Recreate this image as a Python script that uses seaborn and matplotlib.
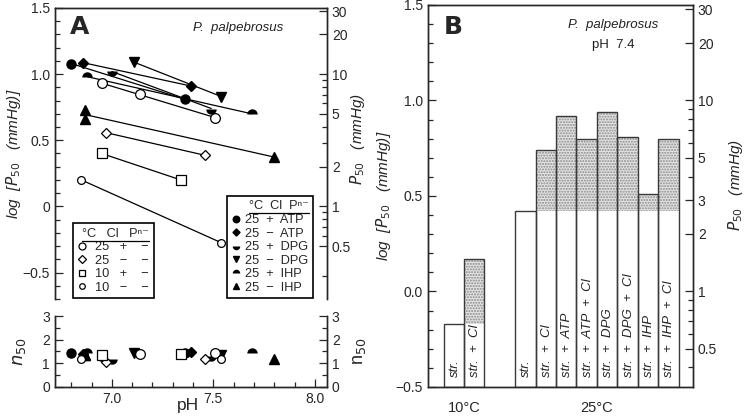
import numpy as np
import pandas as pd
import matplotlib.pyplot as plt
import seaborn as sns
from matplotlib.lines import Line2D
from matplotlib.ticker import MultipleLocator

# ---- A: log P50 と n50 (pH 依存) ----
# 系列ごとの条件 (温度, Cl, 有機リン酸)
series_keys = ["ATP+", "ATP-", "DPG+", "DPG-", "IHP+", "IHP-", "25+", "25-", "10+", "10-"]
series_temp = ["25", "25", "25", "25", "25", "25", "25", "25", "10", "10"]
series_cl = ["+", "−", "+", "−", "+", "−", "+", "−", "+", "−"]
series_phos = ["ATP", "ATP", "DPG", "DPG", "IHP", "IHP", "−", "−", "−", "−"]

ph_atp_cl = [6.80, 7.36]
logp50_atp_cl = [1.08, 0.81]
n50_atp_cl = [1.42, 1.45]
ph_atp = [6.86, 7.39]
logp50_atp = [1.086, 0.91]
n50_atp = [1.38, 1.46]
ph_dpg_cl = [7.00, 7.49]
logp50_dpg_cl = [1.02, 0.74]
n50_dpg_cl = [1.20, 1.30]
ph_dpg = [7.11, 7.54]
logp50_dpg = [1.09, 0.83]
n50_dpg = [1.42, 1.35]
ph_ihp_cl = [6.88, 7.69]
logp50_ihp_cl = [0.98, 0.70]
n50_ihp_cl = [1.42, 1.45]
ph_ihp = [6.87, 6.87, 7.80]
logp50_ihp = [0.727, 0.66, 0.373]
n50_ihp = [1.35, 1.35, 1.20]
ph_str_cl_25 = [6.95, 7.14, 7.51]
logp50_str_cl_25 = [0.93, 0.846, 0.67]
n50_str_cl_25 = [1.30, 1.38, 1.42]
ph_str_25 = [6.97, 7.46]
logp50_str_25 = [0.558, 0.386]
n50_str_25 = [1.07, 1.17]
ph_str_cl_10 = [6.95, 7.34]
logp50_str_cl_10 = [0.40, 0.20]
n50_str_cl_10 = [1.35, 1.38]
ph_str_10 = [6.85, 7.54]
logp50_str_10 = [0.20, -0.275]
n50_str_10 = [1.17, 1.20]

ph_all = [ph_atp_cl, ph_atp, ph_dpg_cl, ph_dpg, ph_ihp_cl, ph_ihp,
          ph_str_cl_25, ph_str_25, ph_str_cl_10, ph_str_10]
logp50_all = [logp50_atp_cl, logp50_atp, logp50_dpg_cl, logp50_dpg, logp50_ihp_cl,
              logp50_ihp, logp50_str_cl_25, logp50_str_25, logp50_str_cl_10, logp50_str_10]
n50_all = [n50_atp_cl, n50_atp, n50_dpg_cl, n50_dpg, n50_ihp_cl, n50_ihp,
           n50_str_cl_25, n50_str_25, n50_str_cl_10, n50_str_10]

# ---- B: pH 7.4 での log P50 ----
bar_temp = ["10°C", "10°C", "25°C", "25°C", "25°C", "25°C", "25°C", "25°C", "25°C", "25°C"]
bar_labels = ["str.", "str.  +  Cl", "str.", "str.  +  Cl", "str.  +  ATP", "str.  +  ATP  +  Cl",
              "str.  +  DPG", "str.  +  DPG  +  Cl", "str.  +  IHP", "str.  +  IHP  +  Cl"]
bar_logp50 = [-0.17, 0.17, 0.42, 0.74, 0.92, 0.80, 0.94, 0.81, 0.51, 0.80]

p50_ticks_a = [0.5, 1, 2, 5, 10, 20, 30]
p50_ticks_b = [0.5, 1, 2, 3, 5, 10, 20, 30]

# マーカーの見た目
marker_style = {
    "ATP+": dict(marker="o", ms=6.5, mfc="black", mec="black"),
    "ATP-": dict(marker="D", ms=5, mfc="black", mec="black"),
    "DPG+": dict(marker="o", ms=7.5, mfc="black", fillstyle="bottom",
                 markerfacecoloralt="none", mew=0),
    "DPG-": dict(marker="v", ms=6.5, mfc="black", mec="black"),
    "IHP+": dict(marker="o", ms=7.5, mfc="black", fillstyle="top",
                 markerfacecoloralt="none", mew=0),
    "IHP-": dict(marker="^", ms=6.5, mfc="black", mec="black"),
    "25+": dict(marker="o", ms=7, mfc="white", mec="black", mew=0.9),
    "25-": dict(marker="D", ms=5.5, mfc="white", mec="black", mew=0.9),
    "10+": dict(marker="s", ms=6.5, mfc="white", mec="black", mew=0.9),
    "10-": dict(marker="o", ms=5.6, mfc="white", mec="black", mew=0.9),
}

sns.set_style("ticks", {"xtick.direction": "in", "ytick.direction": "in"})
plt.rcParams["font.family"] = ["Liberation Sans", "DejaVu Sans"]
plt.rcParams["mathtext.fontset"] = "dejavusans"
plt.rcParams["xtick.labelsize"] = 10
plt.rcParams["ytick.labelsize"] = 10
plt.rcParams["axes.linewidth"] = 1.0

df = pd.DataFrame({
    "series": np.concatenate([[k] * len(p) for k, p in zip(series_keys, ph_all)]),
    "ph": np.concatenate(ph_all),
    "logp50": np.concatenate(logp50_all),
    "n50": np.concatenate(n50_all),
})

fig = plt.figure(figsize=(7.45, 4.2), dpi=100)
axA = fig.add_axes([0.0738, 0.2881, 0.3651, 0.6929])
axN = fig.add_axes([0.0738, 0.0786, 0.3651, 0.1690])
axB = fig.add_axes([0.5745, 0.0786, 0.3557, 0.9095])

# ---- パネル A 上段 ----
for key in series_keys:
    sub = df[df["series"] == key]
    sns.regplot(data=sub, x="ph", y="logp50", scatter=False, ci=None, truncate=True,
                color="black", line_kws={"lw": 0.9, "zorder": 2}, ax=axA)
for key in series_keys:
    sub = df[df["series"] == key]
    axA.plot(sub["ph"], sub["logp50"], ls="none", zorder=3, **marker_style[key])
    axN.plot(sub["ph"], sub["n50"], ls="none", zorder=3, **marker_style[key])

label_kw = dict(style="italic", fontsize=11)

xlim = (6.72, 8.06)
axA.set_xlim(xlim)
axA.set_ylim(-0.7, 1.5)
axA.set_yticks([-0.5, 0, 0.5, 1.0, 1.5])
axA.set_yticklabels(["−0.5", "0", "0.5", "1.0", "1.5"])
axA.yaxis.set_minor_locator(MultipleLocator(0.1))
axA.spines["bottom"].set_visible(False)
axA.tick_params(axis="x", bottom=False, labelbottom=False)
axA.tick_params(axis="y", which="major", length=6, width=0.9)
axA.tick_params(axis="y", which="minor", length=3.5, width=0.9)
axA.set_xlabel("")
axA.set_ylabel("log  [$P_{50}$   (mmHg)]", **label_kw)
axA.yaxis.set_label_coords(-0.118, 0.5)

axA2 = axA.twinx()
axA2.set_ylim(axA.get_ylim())
axA2.set_yticks(np.log10(p50_ticks_a))
axA2.set_yticklabels([f"{v:g}" for v in p50_ticks_a])
axA2.set_yticks(np.log10([0.3, 0.6, 0.7, 0.8, 0.9, 3, 4, 6, 7, 8, 9]), minor=True)
axA2.spines["bottom"].set_visible(False)
axA2.tick_params(axis="y", which="major", length=6, width=0.9)
axA2.tick_params(axis="y", which="minor", length=3.5, width=0.9)
axA2.set_ylabel("$P_{50}$   (mmHg)", **label_kw)
axA2.yaxis.set_label_coords(1.078, 0.55)

axA.text(0.092, 0.935, "A", transform=axA.transAxes, fontsize=18, fontweight="bold",
         ha="center", va="center", family="DejaVu Sans")
axA.text(0.673, 0.931, "P.  palpebrosus", transform=axA.transAxes, fontsize=9.5,
         style="italic", ha="center", va="center", color="#222222")

# 凡例
def make_handles(keys):
    hs = []
    for k in keys:
        st = dict(marker_style[k])
        st["ms"] = st["ms"] * 0.72
        hs.append(Line2D([], [], ls="none", **st))
    return hs

leg_kw = dict(fontsize=9.2, title_fontsize=9.2, frameon=True, fancybox=False,
              edgecolor="black", framealpha=1, handlelength=0.7, labelspacing=0.12,
              borderpad=0.35, borderaxespad=0, alignment="right")
idx_r = [0, 1, 2, 3, 4, 5]
idx_l = [6, 7, 8, 9]
labels_r = [f"{series_temp[i]}  {series_cl[i]}  {series_phos[i]}" for i in idx_r]
labels_l = [f"{series_temp[i]}   {series_cl[i]}    {series_phos[i]}" for i in idx_l]
leg_r = axA.legend(make_handles([series_keys[i] for i in idx_r]), labels_r,
                   title="°C  Cl  Pⁿ⁻", loc="lower right", bbox_to_anchor=(0.949, 0.003),
                   handletextpad=0.35, **leg_kw)
leg_r.get_frame().set_linewidth(1.2)
axA.add_artist(leg_r)
leg_l = axA.legend(make_handles([series_keys[i] for i in idx_l]), labels_l,
                   title="°C   Cl   Pⁿ⁻", loc="lower left", bbox_to_anchor=(0.066, 0.003),
                   handletextpad=0.7, **leg_kw)
leg_l.get_frame().set_linewidth(1.2)

# ---- パネル A 下段 (n50) ----
axN.set_xlim(xlim)
axN.set_ylim(0, 3)
axN.set_yticks([0, 1, 2, 3])
axN.yaxis.set_minor_locator(MultipleLocator(0.5))
axN.set_xticks([7.0, 7.5, 8.0])
axN.set_xticklabels(["7.0", "7.5", "8.0"])
axN.xaxis.set_minor_locator(MultipleLocator(0.1))
axN.spines["top"].set_visible(False)
axN.tick_params(which="major", length=6, width=0.9)
axN.tick_params(which="minor", length=3.5, width=0.9)
axN.set_xlabel("pH", fontsize=12.5)
axN.xaxis.set_label_coords(0.49, -0.16)
axN.set_ylabel("$n_{50}$", fontsize=13)
axN.yaxis.set_label_coords(-0.1, 0.5)

axN2 = axN.twinx()
axN2.set_ylim(0, 3)
axN2.set_yticks([0, 1, 2, 3])
axN2.yaxis.set_minor_locator(MultipleLocator(0.5))
axN2.spines["top"].set_visible(False)
axN2.tick_params(which="major", length=6, width=0.9)
axN2.tick_params(which="minor", length=3.5, width=0.9)
axN2.set_ylabel("n$_{50}$", fontsize=13)
axN2.yaxis.set_label_coords(1.09, 0.5)

# ---- パネル B ----
bottom = -0.5
groups = list(dict.fromkeys(bar_temp))
bar_pos = []
offset = 0.0
for g in groups:
    n = bar_temp.count(g)
    bar_pos += [offset + i for i in range(n)]
    offset += n + 1.5
bar_pos = np.array(bar_pos)
vals = np.array(bar_logp50)
base = np.array([vals[bar_temp.index(t)] for t in bar_temp])
white_top = np.minimum(vals, base)

dfb = pd.DataFrame({"pos": bar_pos, "white": white_top - bottom, "full": vals - bottom,
                    "extra": vals - base, "base": base})
sns.barplot(data=dfb, x="pos", y="white", native_scale=True, orient="x", width=1,
            bottom=bottom, color="white", edgecolor="none", linewidth=0, ax=axB)
st = dfb[dfb["extra"] > 0]
sns.barplot(data=st, x="pos", y="extra", native_scale=True, orient="x", width=1,
            bottom=st["base"].to_numpy(), color="#e4e4e4", facecolor="#e4e4e4",
            edgecolor="#8a8a8a", hatch="......", linewidth=0, ax=axB)
sns.barplot(data=dfb, x="pos", y="full", native_scale=True, orient="x", width=1,
            bottom=bottom, fill=False, color="#3a3a3a", linewidth=1.0, ax=axB)

for p, lab in zip(bar_pos, bar_labels):
    axB.text(p + 0.05, -0.45, lab, rotation=90, ha="center", va="bottom",
             style="italic", fontsize=9.5, color="#222222")

axB.set_xlim(-1.26, 11.7)
axB.set_ylim(-0.5, 1.5)
axB.set_xticks([np.mean(bar_pos[[t == g for t in bar_temp]]) for g in groups])
axB.set_xticklabels(groups, fontsize=10.5)
axB.tick_params(axis="x", length=0, pad=10)
axB.set_yticks([-0.5, 0.0, 0.5, 1.0, 1.5])
axB.yaxis.set_minor_locator(MultipleLocator(0.1))
axB.tick_params(axis="y", which="major", length=6, width=0.9)
axB.tick_params(axis="y", which="minor", length=3.5, width=0.9)
axB.set_xlabel("")
axB.set_ylabel("log  [$P_{50}$   (mmHg)]", **label_kw)
axB.yaxis.set_label_coords(-0.132, 0.5)

axB2 = axB.twinx()
axB2.set_ylim(axB.get_ylim())
axB2.set_yticks(np.log10(p50_ticks_b))
axB2.set_yticklabels([f"{v:g}" for v in p50_ticks_b])
axB2.set_yticks(np.log10([0.4, 0.6, 0.7, 0.8, 0.9, 4, 6, 7, 8, 9]), minor=True)
axB2.tick_params(axis="y", which="major", length=6, width=0.9)
axB2.tick_params(axis="y", which="minor", length=3.5, width=0.9)
axB2.set_ylabel("$P_{50}$   (mmHg)", **label_kw)
axB2.yaxis.set_label_coords(1.125, 0.53)

axB.text(0.094, 0.942, "B", transform=axB.transAxes, fontsize=18, fontweight="bold",
         ha="center", va="center", family="DejaVu Sans")
axB.text(0.698, 0.948, "P.  palpebrosus", transform=axB.transAxes, fontsize=9.5,
         style="italic", ha="center", va="center", color="#222222")
axB.text(0.698, 0.895, "pH  7.4", transform=axB.transAxes, fontsize=9.5,
         ha="center", va="center", color="#222222")

# 凡例ヘッダーの下線
fig.canvas.draw()
inv = fig.transFigure.inverted()
for leg in (leg_r, leg_l):
    bb = leg.get_title().get_window_extent()
    (x0, y0), (x1, _) = inv.transform([(bb.x0, bb.y0 - 1), (bb.x1, bb.y0 - 1)])
    fig.add_artist(Line2D([x0, x1], [y0, y0], transform=fig.transFigure,
                          color="black", lw=0.9))

fig.savefig("out.png", dpi=100)
